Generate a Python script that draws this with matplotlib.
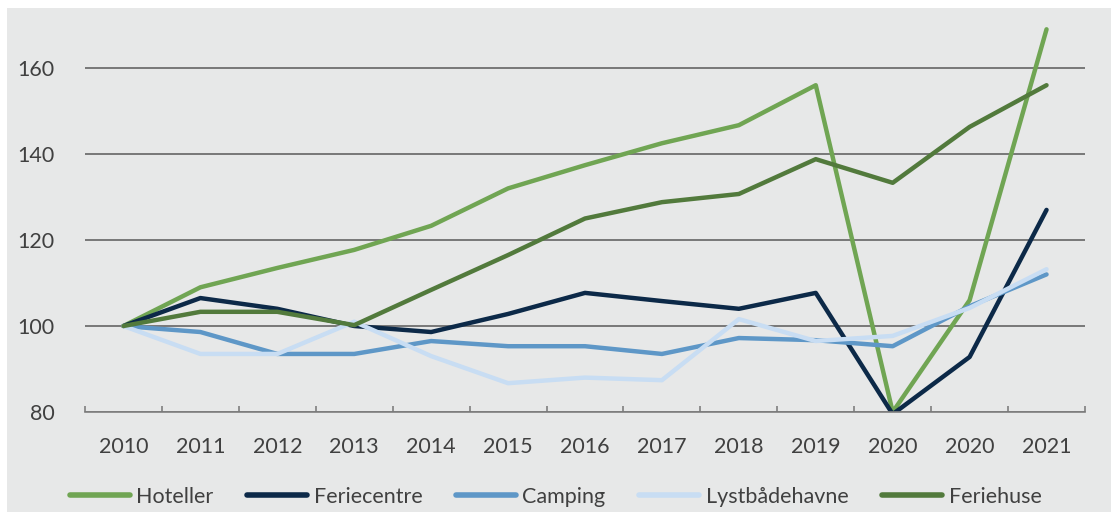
import numpy as np
import matplotlib.pyplot as plt
from matplotlib.patches import Rectangle

plt.rcParams['font.family'] = ['Lato', 'DejaVu Sans']

years = ["2010", "2011", "2012", "2013", "2014", "2015", "2016", "2017",
         "2018", "2019", "2020", "2020", "2021"]
hoteller = [100, 109, 113.5, 117.7, 123.3, 132, 137.4, 142.5, 146.7, 156, 80, 106, 169]
feriecentre = [100, 106.5, 104, 100, 98.6, 102.8, 107.7, 105.8, 104, 107.7, 79.5, 92.8, 127]
camping = [100, 98.6, 93.5, 93.5, 96.5, 95.3, 95.3, 93.5, 97.2, 96.7, 95.3, 104.6, 112]
lystbaadehavne = [100, 93.5, 93.5, 101, 93, 86.7, 88, 87.4, 101.6, 96.5, 97.7, 104.2, 113.2]
feriehuse = [100, 103.3, 103.3, 100.2, 108.4, 116.5, 125, 128.8, 130.7, 138.8, 133.3, 146.3, 156]

series = [
    ("Hoteller", hoteller, "#70A553"),
    ("Feriecentre", feriecentre, "#0C2948"),
    ("Camping", camping, "#5E97C7"),
    ("Lystbådehavne", lystbaadehavne, "#C8DDF3"),
    ("Feriehuse", feriehuse, "#527A3C"),
]

bg = "#E7E8E8"
fig = plt.figure(figsize=(11.11, 5.12), dpi=100)
fig.patches.append(Rectangle((7 / 1111, 0), 1, 1 - 8 / 512, transform=fig.transFigure,
                             facecolor=bg, edgecolor="none", zorder=-10))
ax = fig.add_axes([85 / 1111, 1 - 412 / 512, 1000 / 1111, 387 / 512])
ax.set_facecolor(bg)

x = np.arange(len(years))
for name, vals, col in series:
    ax.plot(x, vals, color=col, lw=3.2, label=name, solid_capstyle="round", solid_joinstyle="round")

ax.set_xlim(-0.5, len(years) - 0.5)
ax.set_ylim(80, 170)
ax.set_yticks([80, 100, 120, 140, 160])
ax.yaxis.grid(True, color="#595959", lw=1.1)
ax.set_axisbelow(True)
for s in ["top", "right", "left"]:
    ax.spines[s].set_visible(False)
ax.spines["bottom"].set_color("#7F7F7F")
ax.spines["bottom"].set_linewidth(1.2)

ax.set_xticks(x)
ax.set_xticklabels(years)
ax.set_xticks(np.arange(-0.5, len(years)), minor=True)
ax.tick_params(axis="x", which="major", length=0, pad=18, labelsize=15.5, labelcolor="#404040")
ax.tick_params(axis="x", which="minor", length=4, direction="in", color="#7F7F7F", width=1.2)
ax.tick_params(axis="y", length=0, pad=22, labelsize=15.5, labelcolor="#404040")

leg = fig.legend(loc="center", bbox_to_anchor=(0.5, 1 - 497 / 512), ncol=5, frameon=False,
                 fontsize=15.5, handlelength=2.8, columnspacing=1.55, handletextpad=0.3,
                 labelcolor="#404040")
for h in leg.legend_handles:
    h.set_linewidth(4)

fig.savefig("out.png", dpi=100, facecolor="white")
